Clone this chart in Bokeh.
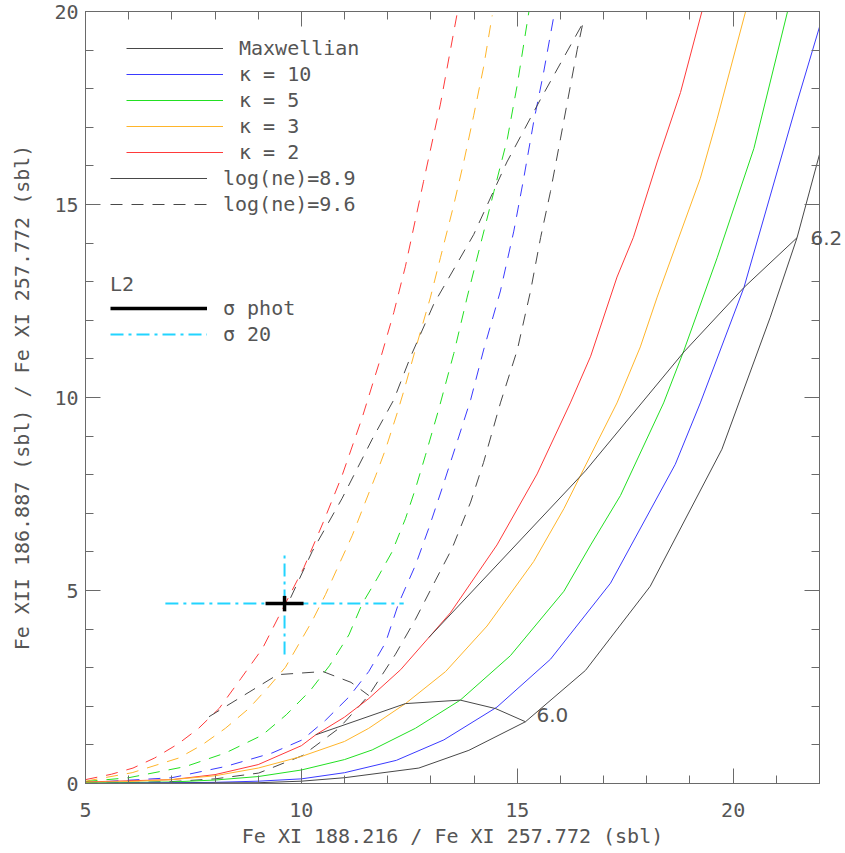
from bokeh.plotting import figure
from bokeh.models import (LinearAxis, SingleIntervalTicker, FixedTicker, Range1d,
                          Legend, LegendItem, Label, CustomJSTickFormatter)
from bokeh.embed import file_html
from bokeh.resources import INLINE

# ---------------- data ----------------
# log(ne)=8.9  (solid)
max_s_x = [5.0, 9.0, 10.0, 11.0, 12.72, 13.88, 15.19, 16.58, 18.08, 19.74, 20.86, 21.48, 22.0]
max_s_y = [0.0, 0.02, 0.06, 0.15, 0.40, 0.86, 1.60, 2.93, 5.11, 8.66, 12.08, 14.14, 16.3]
k10_s_x = [5.0, 8.0, 9.0, 10.0, 11.0, 12.2, 13.3, 14.53, 15.77, 17.16, 18.66, 19.24, 20.25, 21.48, 22.0]
k10_s_y = [0.0, 0.03, 0.06, 0.12, 0.28, 0.60, 1.13, 1.98, 3.22, 5.19, 8.27, 9.86, 12.85, 17.65, 19.6]
k5_s_x = [5.0, 7.0, 8.0, 9.0, 10.0, 11.0, 11.64, 12.64, 13.68, 14.84, 16.08, 16.7, 17.39, 18.39, 18.86, 19.63, 20.48, 21.26]
k5_s_y = [0.01, 0.04, 0.09, 0.18, 0.35, 0.62, 0.87, 1.43, 2.16, 3.31, 4.98, 6.18, 7.46, 9.86, 11.22, 13.62, 16.45, 20.0]
k3_s_x = [5.0, 6.0, 7.0, 8.0, 9.0, 10.0, 11.0, 11.56, 12.41, 13.34, 14.3, 15.38, 16.08, 16.54, 17.31, 17.85, 18.24, 19.24, 19.63, 20.3]
k3_s_y = [0.03, 0.05, 0.10, 0.20, 0.40, 0.70, 1.09, 1.43, 2.07, 2.90, 4.08, 5.75, 7.12, 8.15, 9.86, 11.31, 12.6, 15.68, 17.22, 20.05]
k2_s_x = [5.0, 6.0, 7.0, 8.0, 9.0, 10.0, 10.33, 11.0, 11.56, 12.3, 12.95, 13.45, 14.53, 15.46, 16.23, 16.7, 17.31, 17.69, 18.24, 18.78, 19.3]
k2_s_y = [0.04, 0.07, 0.10, 0.23, 0.49, 0.98, 1.26, 1.72, 2.20, 2.95, 3.78, 4.42, 6.18, 8.02, 9.86, 11.07, 13.12, 14.15, 16.1, 17.9, 20.1]

# log(ne)=9.6  (dashed)
max_d_x = [5.0, 7.0, 8.0, 9.01, 10.02, 10.87, 11.56, 12.18, 12.64, 13.1, 13.49, 13.92, 14.22, 14.61, 15.0, 15.31, 15.54, 15.77, 16.0, 16.23, 16.39, 16.52]
max_d_y = [0.0, 0.05, 0.12, 0.27, 0.72, 1.43, 2.28, 3.35, 4.25, 5.25, 6.09, 7.29, 8.32, 9.86, 11.23, 12.77, 14.14, 15.34, 16.7, 18.07, 19.02, 19.7]
k10_d_x = [5.0, 7.0, 8.24, 9.32, 10.02, 10.56, 11.1, 11.56, 11.95, 12.25, 12.64, 12.95, 13.26, 13.65, 13.92, 14.22, 14.61, 14.92, 15.15, 15.38, 15.61, 15.85]
k10_d_y = [0.02, 0.15, 0.44, 0.79, 1.13, 1.64, 2.24, 2.90, 3.65, 4.66, 5.65, 6.61, 7.65, 9.0, 9.94, 11.23, 12.76, 14.31, 15.68, 17.14, 18.42, 19.9]
k5_d_x = [5.0, 6.0, 7.32, 8.24, 9.09, 9.65, 10.2, 10.65, 11.1, 11.41, 11.75, 12.1, 12.41, 12.64, 12.87, 13.18, 13.53, 13.84, 14.15, 14.46, 14.77, 15.0, 15.27]
k5_d_y = [0.05, 0.15, 0.44, 0.79, 1.25, 1.78, 2.40, 3.05, 3.85, 4.66, 5.30, 6.0, 6.86, 7.63, 8.49, 9.69, 11.14, 12.6, 13.97, 15.34, 16.7, 18.1, 20.0]
k3_d_x = [5.0, 6.08, 7.16, 7.7, 8.24, 8.78, 9.24, 9.63, 9.94, 10.25, 10.56, 10.87, 11.18, 11.48, 11.72, 11.95, 12.22, 12.37, 12.68, 12.99, 13.22, 13.53, 13.76, 13.99, 14.22, 14.42]
k3_d_y = [0.06, 0.28, 0.66, 1.0, 1.43, 1.94, 2.5, 3.01, 3.61, 4.21, 4.9, 5.67, 6.43, 7.29, 7.97, 8.66, 9.6, 10.16, 11.4, 12.6, 13.62, 14.99, 16.1, 17.3, 18.56, 19.9]
k2_d_x = [5.0, 5.6, 6.1, 6.6, 7.15, 7.62, 8.1, 8.6, 9.1, 9.6, 10.06, 10.5, 10.94, 11.4, 11.83, 12.14, 12.41, 12.83, 13.22, 13.6]
k2_d_y = [0.10, 0.24, 0.40, 0.66, 1.03, 1.43, 1.95, 2.72, 3.5, 4.6, 5.6, 6.75, 7.97, 9.45, 11.0, 12.2, 13.4, 15.6, 17.6, 19.9]

# isotherms (log T = 6.0 and 6.2)
iso60_s_x = [10.33, 12.41, 13.68, 14.5, 15.19]
iso60_s_y = [1.26, 2.07, 2.16, 1.94, 1.60]
iso62_s_x = [12.95, 16.58, 18.86, 20.25, 21.48]
iso62_s_y = [3.78, 8.10, 11.18, 12.85, 14.14]
iso60_d_x = [7.86, 9.45, 10.5, 11.15, 11.56]
iso60_d_y = [1.73, 2.82, 2.90, 2.62, 2.28]
iso62_d_x = [9.75, 10.25, 10.94, 11.64, 12.14, 12.53, 13.07, 13.99, 14.76, 15.54, 16.52]
iso62_d_y = [4.81, 6.01, 7.38, 8.92, 9.94, 11.06, 12.43, 14.22, 16.1, 17.73, 19.7]
iso_labels = ["6.0", "6.2"]

# L2 observation with uncertainties
obs_x = [9.61]
obs_y = [4.66]
phot_dx = [0.44]
phot_dy = [0.20]
s20_dx = [2.76]
s20_dy = [1.32]

# ---------------- style ----------------
FONT = "DejaVu Sans Mono"
LFONT = "DejaVu Sans"
TXT = "#555555"
AX = "#6a6a6a"
FS = "20px"
C_BLK = "#484848"
C_BLU = "#3a3aff"
C_GRN = "#22e022"
C_ORG = "#ffb52a"
C_RED = "#ff3a3a"
C_CYAN = "#22d4ff"
DASH = "12 9"

p = figure(width=845, height=850, x_range=Range1d(5, 22), y_range=Range1d(0, 20),
           output_backend="svg", toolbar_location=None,
           min_border_left=85, min_border_right=26, min_border_top=11,
           min_border_bottom=66, background_fill_color="white",
           border_fill_color="white")
p.grid.visible = False
p.outline_line_color = AX

def style_axis(ax, labels=True):
    ax.ticker = SingleIntervalTicker(interval=5, num_minor_ticks=5)
    ax.major_tick_in = 15
    ax.major_tick_out = 0
    ax.minor_tick_in = 8
    ax.minor_tick_out = 0
    ax.axis_line_color = AX
    ax.major_tick_line_color = AX
    ax.minor_tick_line_color = AX
    if labels:
        ax.major_label_text_font = FONT
        ax.major_label_text_font_size = FS
        ax.major_label_text_color = TXT
        ax.axis_label_text_font = FONT
        ax.axis_label_text_font_size = FS
        ax.axis_label_text_color = TXT
        ax.axis_label_text_font_style = "normal"
    else:
        ax.formatter = CustomJSTickFormatter(code="return ''")
        ax.major_label_standoff = 0

style_axis(p.xaxis[0])
style_axis(p.yaxis[0])
p.xaxis[0].axis_label = "Fe XI 188.216 / Fe XI 257.772 (sbl)"
p.xaxis[0].major_label_standoff = 19
p.xaxis[0].axis_label_standoff = 4
p.yaxis[0].axis_label = "Fe XII 186.887 (sbl) / Fe XI 257.772 (sbl)"
p.yaxis[0].major_label_standoff = 7
p.yaxis[0].axis_label_standoff = 17

top_ax = LinearAxis()
style_axis(top_ax, labels=False)
p.add_layout(top_ax, "above")
right_ax = LinearAxis()
style_axis(right_ax, labels=False)
p.add_layout(right_ax, "right")

# label of the 6.2 isotherm, written at the right edge of the frame
iso_ax = LinearAxis(ticker=FixedTicker(ticks=[iso62_s_y[-1]]),
                    major_label_overrides={iso62_s_y[-1]: iso_labels[1]},
                    axis_line_color=None, major_tick_in=0, major_tick_out=0,
                    minor_tick_in=0, minor_tick_out=0,
                    major_label_standoff=-9, major_label_text_font=LFONT,
                    major_label_text_font_size=FS, major_label_text_color=TXT)
p.add_layout(iso_ax, "right")

# ---------------- curves ----------------
r_k2d = p.line(k2_d_x, k2_d_y, line_color=C_RED, line_width=1, line_dash=DASH)
r_k3d = p.line(k3_d_x, k3_d_y, line_color=C_ORG, line_width=1, line_dash=DASH)
r_k5d = p.line(k5_d_x, k5_d_y, line_color=C_GRN, line_width=1, line_dash=DASH)
r_k10d = p.line(k10_d_x, k10_d_y, line_color=C_BLU, line_width=1, line_dash=DASH)
r_maxd = p.line(max_d_x, max_d_y, line_color=C_BLK, line_width=1, line_dash=DASH)
p.line(iso60_d_x, iso60_d_y, line_color=C_BLK, line_width=1, line_dash=DASH)
p.line(iso62_d_x, iso62_d_y, line_color=C_BLK, line_width=1, line_dash=DASH)

r_k2 = p.line(k2_s_x, k2_s_y, line_color=C_RED, line_width=1)
r_k3 = p.line(k3_s_x, k3_s_y, line_color=C_ORG, line_width=1)
r_k5 = p.line(k5_s_x, k5_s_y, line_color=C_GRN, line_width=1)
r_k10 = p.line(k10_s_x, k10_s_y, line_color=C_BLU, line_width=1)
r_max = p.line(max_s_x, max_s_y, line_color=C_BLK, line_width=1)
p.line(iso60_s_x, iso60_s_y, line_color=C_BLK, line_width=1)
p.line(iso62_s_x, iso62_s_y, line_color=C_BLK, line_width=1)

# label of the 6.0 isotherm at its end
p.add_layout(Label(x=iso60_s_x[-1], y=iso60_s_y[-1], x_offset=11, y_offset=7,
                   text=iso_labels[0], text_font=LFONT, text_font_size=FS,
                   text_color=TXT, text_baseline="middle"))

# ---------------- L2 observation ----------------
x0s = [x - d for x, d in zip(obs_x, s20_dx)]
x1s = [x + d for x, d in zip(obs_x, s20_dx)]
y0s = [y - d for y, d in zip(obs_y, s20_dy)]
y1s = [y + d for y, d in zip(obs_y, s20_dy)]
r_s20 = p.segment(x0s, obs_y, x1s, obs_y, line_color=C_CYAN, line_width=2, line_dash="13 5 3 5")
p.segment(obs_x, y0s, obs_x, y1s, line_color=C_CYAN, line_width=2, line_dash="13 5 3 5")
x0p = [x - d for x, d in zip(obs_x, phot_dx)]
x1p = [x + d for x, d in zip(obs_x, phot_dx)]
y0p = [y - d for y, d in zip(obs_y, phot_dy)]
y1p = [y + d for y, d in zip(obs_y, phot_dy)]
r_phot = p.segment(x0p, obs_y, x1p, obs_y, line_color="black", line_width=3.5)
p.segment(obs_x, y0p, obs_x, y1p, line_color="black", line_width=3.5)

# ---------------- legends ----------------
def make_legend(items, loc, title=None):
    lg = Legend(items=items, location=loc, orientation="vertical",
                padding=0, margin=0, spacing=2, border_line_color=None,
                background_fill_alpha=0, glyph_width=97, glyph_height=20,
                label_height=20, label_standoff=16,
                label_text_font=FONT, label_text_font_size=FS,
                label_text_color=TXT)
    if title is not None:
        lg.title = title
        lg.title_text_font = FONT
        lg.title_text_font_size = FS
        lg.title_text_font_style = "normal"
        lg.title_text_color = TXT
        lg.title_standoff = 0
    return lg

leg1 = make_legend([LegendItem(label="Maxwellian", renderers=[r_max]),
                    LegendItem(label="κ = 10", renderers=[r_k10]),
                    LegendItem(label="κ = 5", renderers=[r_k5]),
                    LegendItem(label="κ = 3", renderers=[r_k3]),
                    LegendItem(label="κ = 2", renderers=[r_k2])], (41, 619))
leg2 = make_legend([LegendItem(label="log(ne)=8.9", renderers=[r_max]),
                    LegendItem(label="log(ne)=9.6", renderers=[r_maxd])], (25, 567))
leg3 = make_legend([LegendItem(label="σ phot", renderers=[r_phot]),
                    LegendItem(label="σ 20", renderers=[r_s20])], (25, 437), title="L2")
for lg in (leg1, leg2, leg3):
    p.add_layout(lg, "center")

open("out.html", "w").write(file_html(p, INLINE))
